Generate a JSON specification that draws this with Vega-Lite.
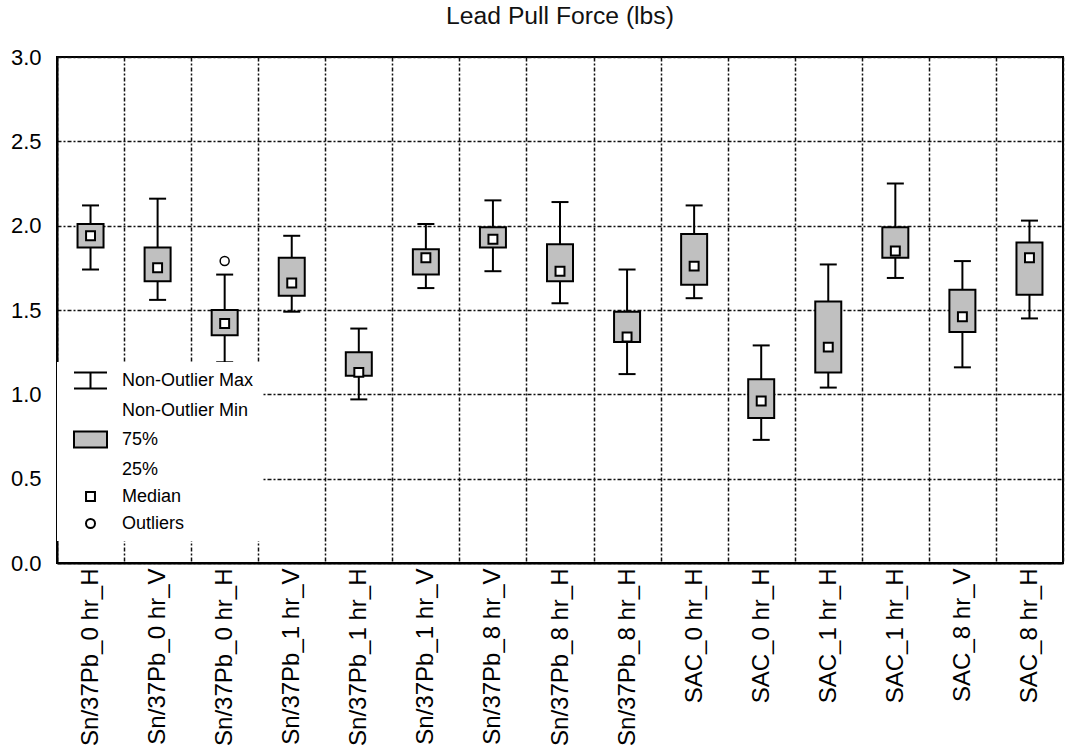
{
  "$schema": "https://vega.github.io/schema/vega-lite/v6.json",
  "width": 1006,
  "height": 506,
  "autosize": {"type": "none"},
  "padding": {"left": 57, "top": 57, "right": 10, "bottom": 187},
  "background": "white",
  "title": {"text": "Lead Pull Force (lbs)", "font": "Liberation Sans", "fontSize": 24.7, "fontWeight": "normal", "color": "#111111", "anchor": "middle", "offset": 17},
  "datasets": {
    "stats": [
      {"cat": "Sn/37Pb_0 hr_H#1", "lo": 1.74, "q1": 1.87, "med": 1.94, "q3": 2.01, "hi": 2.12},
      {"cat": "Sn/37Pb_0 hr_V#1", "lo": 1.56, "q1": 1.67, "med": 1.75, "q3": 1.87, "hi": 2.16},
      {"cat": "Sn/37Pb_0 hr_H#2", "lo": 1.19, "q1": 1.35, "med": 1.42, "q3": 1.5, "hi": 1.71},
      {"cat": "Sn/37Pb_1 hr_V#1", "lo": 1.49, "q1": 1.585, "med": 1.66, "q3": 1.81, "hi": 1.94},
      {"cat": "Sn/37Pb_1 hr_H#1", "lo": 0.97, "q1": 1.11, "med": 1.13, "q3": 1.25, "hi": 1.39},
      {"cat": "Sn/37Pb_1 hr_V#2", "lo": 1.63, "q1": 1.71, "med": 1.81, "q3": 1.86, "hi": 2.01},
      {"cat": "Sn/37Pb_8 hr_V#1", "lo": 1.73, "q1": 1.87, "med": 1.92, "q3": 1.99, "hi": 2.15},
      {"cat": "Sn/37Pb_8 hr_H#1", "lo": 1.54, "q1": 1.67, "med": 1.73, "q3": 1.89, "hi": 2.14},
      {"cat": "Sn/37Pb_8 hr_H#2", "lo": 1.12, "q1": 1.31, "med": 1.34, "q3": 1.49, "hi": 1.74},
      {"cat": "SAC_0 hr_H#1", "lo": 1.57, "q1": 1.65, "med": 1.76, "q3": 1.95, "hi": 2.12},
      {"cat": "SAC_0 hr_H#2", "lo": 0.73, "q1": 0.86, "med": 0.96, "q3": 1.09, "hi": 1.29},
      {"cat": "SAC_1 hr_H#1", "lo": 1.04, "q1": 1.13, "med": 1.28, "q3": 1.55, "hi": 1.77},
      {"cat": "SAC_1 hr_H#2", "lo": 1.69, "q1": 1.81, "med": 1.85, "q3": 1.99, "hi": 2.25},
      {"cat": "SAC_8 hr_V#1", "lo": 1.16, "q1": 1.37, "med": 1.46, "q3": 1.62, "hi": 1.79},
      {"cat": "SAC_8 hr_H#1", "lo": 1.45, "q1": 1.59, "med": 1.81, "q3": 1.9, "hi": 2.03}
    ],
    "outliers": [
      {"cat": "Sn/37Pb_0 hr_H#2", "val": 1.79}
    ]
  },
  "data": {"name": "stats"},
  "config": {
    "font": "Liberation Sans",
    "view": {"stroke": "black", "strokeWidth": 2},
    "axis": {
      "domainColor": "black",
      "domainWidth": 2,
      "grid": true,
      "gridColor": "#111111",
      "gridDash": [4, 2, 2, 2],
      "gridWidth": 1.5,
      "gridOpacity": 1,
      "ticks": false,
      "labelColor": "black",
      "labelFont": "Liberation Sans"
    }
  },
  "encoding": {
    "x": {
      "field": "cat",
      "type": "nominal",
      "sort": null,
      "title": null,
      "scale": {
        "domain": ["Sn/37Pb_0 hr_H#1", "Sn/37Pb_0 hr_V#1", "Sn/37Pb_0 hr_H#2", "Sn/37Pb_1 hr_V#1", "Sn/37Pb_1 hr_H#1", "Sn/37Pb_1 hr_V#2", "Sn/37Pb_8 hr_V#1", "Sn/37Pb_8 hr_H#1", "Sn/37Pb_8 hr_H#2", "SAC_0 hr_H#1", "SAC_0 hr_H#2", "SAC_1 hr_H#1", "SAC_1 hr_H#2", "SAC_8 hr_V#1", "SAC_8 hr_H#1"],
        "paddingInner": 0,
        "paddingOuter": 0
      },
      "axis": {
        "tickBand": "extent",
        "labelAngle": -90,
        "labelFontSize": 24,
        "labelPadding": 5,
        "labelExpr": "split(datum.label, '#')[0]"
      }
    }
  },
  "layer": [
    {
      "mark": {"type": "rule", "color": "black", "strokeWidth": 2},
      "encoding": {
        "y": {"field": "lo", "type": "quantitative", "scale": {"domain": [0, 3], "nice": false, "zero": false}, "axis": {"values": [0, 0.5, 1, 1.5, 2, 2.5, 3], "format": ".1f", "labelFontSize": 22, "labelPadding": 16, "title": null}},
        "y2": {"field": "hi"}
      }
    },
    {
      "mark": {"type": "tick", "color": "black", "size": 17, "thickness": 2, "opacity": 1},
      "encoding": {"y": {"field": "hi", "type": "quantitative"}}
    },
    {
      "mark": {"type": "tick", "color": "black", "size": 17, "thickness": 2, "opacity": 1},
      "encoding": {"y": {"field": "lo", "type": "quantitative"}}
    },
    {
      "mark": {"type": "bar", "width": 26, "fill": "#c0c0c0", "stroke": "black", "strokeWidth": 2, "opacity": 1},
      "encoding": {"y": {"field": "q1", "type": "quantitative"}, "y2": {"field": "q3"}}
    },
    {
      "mark": {"type": "point", "filled": true, "strokeWidth": 2, "size": 361, "opacity": 1},
      "encoding": {
        "y": {"field": "med", "type": "quantitative"},
        "fill": {
          "datum": "Median",
          "scale": {
            "domain": ["MaxMin", "MinLbl", "Box", "BoxLbl", "Median", "Outliers"],
            "range": ["white", "white", "#c0c0c0", "white", "white", "white"]
          }
        },
        "stroke": {
          "datum": "Median",
          "scale": {
            "domain": ["MaxMin", "MinLbl", "Box", "BoxLbl", "Median", "Outliers"],
            "range": ["black", "black", "black", "black", "black", "black"]
          }
        },
        "shape": {
          "datum": "Median",
          "scale": {
            "domain": ["MaxMin", "MinLbl", "Box", "BoxLbl", "Median", "Outliers"],
            "range": [
              "M-1.737,-0.842L1.737,-0.842M0,-0.842L0,0.842M-1.737,0.842L1.737,0.842",
              "M0,0Z",
              "M-1.737,-0.842L1.737,-0.842L1.737,0.842L-1.737,0.842Z",
              "M0,0Z",
              "M-0.47,-0.47L0.47,-0.47L0.47,0.47L-0.47,0.47Z",
              "M-0.474,0A0.474,0.474,0,1,0,0.474,0A0.474,0.474,0,1,0,-0.474,0Z"
            ]
          },
          "legend": {
            "title": null,
            "orient": "none",
            "legendX": 0,
            "legendY": 305,
            "fillColor": "white",
            "padding": 8,
            "symbolOffset": 15,
            "labelOffset": 21,
            "labelFontSize": 18,
            "labelColor": "black",
            "labelFont": "Liberation Sans",
            "symbolSize": 361,
            "symbolStrokeWidth": 2,
            "symbolOpacity": 1,
            "rowPadding": 7,
            "labelExpr": "datum.value == 'MaxMin' ? 'Non-Outlier Max' : datum.value == 'MinLbl' ? 'Non-Outlier Min' : datum.value == 'Box' ? '75%' : datum.value == 'BoxLbl' ? '25%' : datum.label"
          }
        }
      }
    },
    {
      "data": {"name": "outliers"},
      "mark": {"type": "point", "filled": true, "strokeWidth": 1.5, "size": 361, "opacity": 1},
      "encoding": {
        "y": {"field": "val", "type": "quantitative"},
        "fill": {"datum": "Outliers"},
        "stroke": {"datum": "Outliers"},
        "shape": {"datum": "Outliers"}
      }
    }
  ]
}
